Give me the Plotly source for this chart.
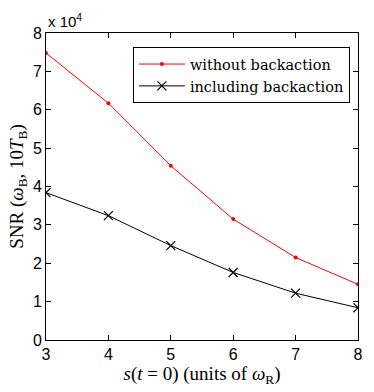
import plotly.graph_objects as go

# data (SNR values)
s0 = [3, 4, 5, 6, 7, 8]
snr_without = [74800, 61700, 45400, 31500, 21500, 14500]
snr_with = [38400, 32400, 24600, 17600, 12200, 8400]
y_ticks = [0, 1, 2, 3, 4, 5, 6, 7, 8]

serif = "Liberation Serif"
sans = "Liberation Sans"

fig = go.Figure()

fig.add_trace(go.Scatter(
    x=s0, y=snr_without, mode="lines+markers", name="without backaction",
    line=dict(color="red", width=1), marker=dict(symbol="circle", size=4, color="red")
))
fig.add_trace(go.Scatter(
    x=s0, y=snr_with, mode="lines+markers", name="including backaction",
    line=dict(color="black", width=1),
    marker=dict(symbol="x-thin", size=9, line=dict(color="black", width=1.2))
))

axis_common = dict(
    showline=True, linecolor="black", linewidth=1, mirror="ticks",
    ticks="inside", ticklen=5, tickcolor="black", showgrid=False, zeroline=False,
    tickfont=dict(family=sans, size=16, color="black"),
)

fig.update_xaxes(
    range=[3, 8], tickvals=s0, **axis_common,
    title=dict(text="<i>s</i>(<i>t</i> = 0) (units of <i>ω</i><sub>R</sub>)",
               font=dict(family=serif, size=19, color="black"), standoff=4),
)
fig.update_yaxes(
    range=[0, 80000], tickvals=[v * 10000 for v in y_ticks],
    ticktext=[str(v) for v in y_ticks], **axis_common,
    title=dict(text="SNR (<i>ω</i><sub>B</sub>, 10<i>T</i><sub>B</sub>)",
               font=dict(family=serif, size=19, color="black"), standoff=4),
)

fig.add_annotation(
    x=0, y=1, xref="paper", yref="paper", xanchor="left", yanchor="bottom",
    text="x 10<sup>4</sup>", showarrow=False, yshift=1,
    font=dict(family=sans, size=15, color="black"),
)

fig.update_layout(
    width=374, height=392,
    margin=dict(l=46, r=16, t=33, b=52),
    paper_bgcolor="white", plot_bgcolor="white",
    legend=dict(
        x=0.974, y=0.954, xanchor="right", yanchor="top",
        bgcolor="white", bordercolor="black", borderwidth=1,
        font=dict(family="DejaVu Serif", size=14.5, color="black"),
        tracegroupgap=0, itemwidth=46,
    ),
)

fig.write_html("out.html", config={"displayModeBar": False},
               post_script="document.body.style.margin='0';")
